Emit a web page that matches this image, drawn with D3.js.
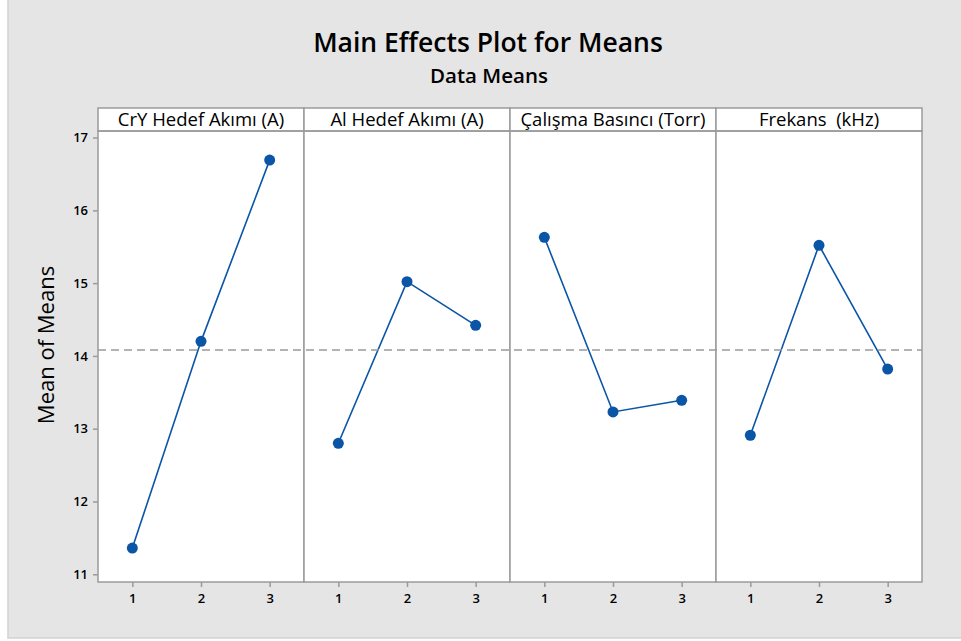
<!DOCTYPE html>
<html>
<head>
<meta charset="utf-8">
<script src="https://cdn.jsdelivr.net/npm/d3@7"></script>
<style>
  body { margin: 0; background: #fff; }
  text { font-family: "Open Sans", "Noto Sans", sans-serif; fill: #000; white-space: pre; }
</style>
</head>
<body>
<div class="chart"></div>
<script>
// data
var factors = ["CrY Hedef Akımı (A)", "Al Hedef Akımı (A)", "Çalışma Basıncı (Torr)", "Frekans  (kHz)"];
var levels = ["1", "2", "3"];
var cryMeans = [11.36, 14.20, 16.69];
var alMeans = [12.80, 15.02, 14.42];
var basincMeans = [15.63, 13.23, 13.39];
var frekansMeans = [12.91, 15.52, 13.82];
var grandMean = 14.08;
var yTicks = [11, 12, 13, 14, 15, 16, 17];

var seriesList = [cryMeans, alMeans, basincMeans, frekansMeans];

// svg size
var svgW = 961;
var svgH = 641;

// plot area
var plotLeft = 98;
var plotRight = 922;
var headTop = 108;
var plotTop = 131;
var plotBottom = 582;
var panelW = (plotRight - plotLeft) / factors.length;

var svg = d3.select(".chart")
    .append("svg")
    .attr("width", svgW)
    .attr("height", svgH);

// figure background
svg.append("rect")
    .attr("x", 8)
    .attr("y", -1)
    .attr("width", 960)
    .attr("height", 639)
    .attr("fill", "#e5e5e5")
    .attr("stroke", "#d2d2d2")
    .attr("stroke-width", 1.5);

// titles
svg.append("text")
    .attr("x", 488)
    .attr("y", 52)
    .attr("text-anchor", "middle")
    .attr("font-size", 26.5)
    .attr("font-weight", 600)
    .text("Main Effects Plot for Means");

svg.append("text")
    .attr("x", 489)
    .attr("y", 83)
    .attr("text-anchor", "middle")
    .attr("font-size", 20.5)
    .attr("font-weight", 600)
    .text("Data Means");

// scales
var panelScale = d3.scaleBand()
    .domain(factors)
    .range([plotLeft, plotRight]);

var x = d3.scalePoint()
    .domain(levels)
    .range([0, panelW])
    .padding(0.5);

var y = d3.scaleLinear()
    .domain([10.894, 17.09])
    .range([plotBottom, plotTop]);

// panels
var panels = svg.selectAll(".panel")
    .data(factors)
    .enter().append("g")
    .attr("class", "panel")
    .attr("transform", function(d) { return "translate(" + panelScale(d) + ",0)"; });

panels.append("rect")
    .attr("x", 0)
    .attr("y", plotTop)
    .attr("width", panelW)
    .attr("height", plotBottom - plotTop)
    .attr("fill", "#fff");

panels.append("rect")
    .attr("x", 0)
    .attr("y", headTop)
    .attr("width", panelW)
    .attr("height", plotTop - headTop)
    .attr("fill", "#fff")
    .attr("stroke", "#9b9b9b")
    .attr("stroke-width", 1.5);

panels.append("text")
    .attr("x", panelW / 2)
    .attr("y", headTop + 18)
    .attr("text-anchor", "middle")
    .attr("font-size", 18.5)
    .attr("font-weight", 500)
    .text(function(d) { return d; });

// x axis per panel
panels.each(function() {
    var g = d3.select(this).append("g")
        .attr("transform", "translate(0," + plotBottom + ")")
        .call(d3.axisBottom(x).tickSize(5).tickPadding(7));
    g.select(".domain").remove();
    g.selectAll("line").attr("stroke", "#9b9b9b").attr("stroke-width", 1.5);
    g.selectAll("text")
        .attr("font-size", 13)
        .attr("font-weight", 600)
        .attr("font-family", "'Open Sans', sans-serif")
        .attr("fill", "#000");
});

// grand mean reference line
svg.append("line")
    .attr("x1", plotLeft)
    .attr("x2", plotRight)
    .attr("y1", y(grandMean))
    .attr("y2", y(grandMean))
    .attr("stroke", "#9b9b9b")
    .attr("stroke-width", 1.5)
    .attr("stroke-dasharray", "8,5");

// lines and points
var line = d3.line()
    .x(function(d, i) { return x(levels[i]); })
    .y(function(d) { return y(d); });

panels.append("path")
    .datum(function(d, i) { return seriesList[i]; })
    .attr("d", line)
    .attr("fill", "none")
    .attr("stroke", "#0a55a6")
    .attr("stroke-width", 1.6);

panels.each(function(d, i) {
    d3.select(this).selectAll("circle")
        .data(seriesList[i])
        .enter().append("circle")
        .attr("cx", function(v, j) { return x(levels[j]); })
        .attr("cy", function(v) { return y(v); })
        .attr("r", 5.5)
        .attr("fill", "#0a55a6");
});

// panel borders
panels.append("rect")
    .attr("x", 0)
    .attr("y", plotTop)
    .attr("width", panelW)
    .attr("height", plotBottom - plotTop)
    .attr("fill", "none")
    .attr("stroke", "#9b9b9b")
    .attr("stroke-width", 1.5);

// y axis
var yaxis = svg.append("g")
    .attr("transform", "translate(" + plotLeft + ",0)")
    .call(d3.axisLeft(y).tickValues(yTicks).tickFormat(d3.format("d")).tickSize(5).tickPadding(5));
yaxis.select(".domain").remove();
yaxis.selectAll("line").attr("stroke", "#9b9b9b").attr("stroke-width", 1.5);
yaxis.selectAll("text")
    .attr("font-size", 13)
    .attr("font-weight", 600)
    .attr("font-family", "'Open Sans', sans-serif")
    .attr("fill", "#000");

svg.append("text")
    .attr("transform", "translate(54," + 345 + ") rotate(-90)")
    .attr("text-anchor", "middle")
    .attr("font-size", 22)
    .attr("font-weight", 500)
    .text("Mean of Means");
</script>
</body>
</html>
